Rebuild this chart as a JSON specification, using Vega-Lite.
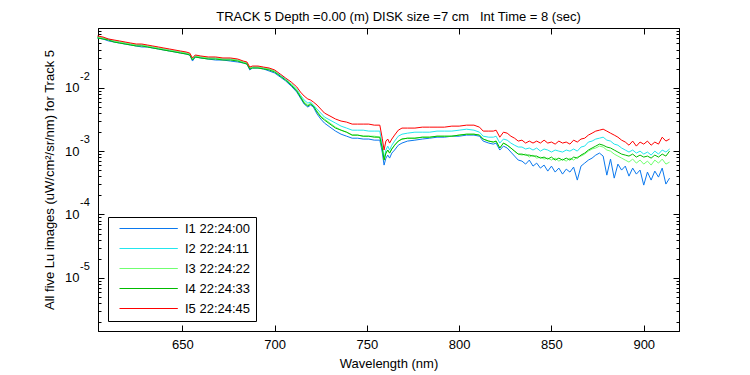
{
  "$schema": "https://vega.github.io/schema/vega-lite/v6.json",
  "width": 581,
  "height": 303,
  "autosize": {"type": "none"},
  "padding": {"left": 98, "top": 28, "right": 71, "bottom": 44},
  "background": "white",
  "config": {
    "view": {"stroke": "black", "strokeWidth": 1},
    "font": "Liberation Sans",
    "axis": {"domainColor": "black", "tickColor": "black", "labelColor": "black", "titleColor": "black", "labelFont": "Liberation Sans", "titleFont": "Liberation Sans", "labelFontSize": 13, "titleFontSize": 13, "titleFontWeight": "normal", "grid": false, "domainWidth": 1, "tickWidth": 1}
  },
  "title": {"text": "TRACK 5 Depth =0.00 (m) DISK size =7 cm\u00a0\u00a0\u00a0Int Time = 8 (sec)", "fontSize": 13, "fontWeight": "normal", "font": "Liberation Sans", "color": "black", "offset": 4, "dx": 10},
  "datasets": {
    "spectra": [
      {"nm":604,"I1":0.0610,"I2":0.0632,"I3":0.0632,"I4":0.0610,"I5":0.0656},
      {"nm":607,"I1":0.0588,"I2":0.0610,"I3":0.0610,"I4":0.0588,"I5":0.0632},
      {"nm":610,"I1":0.0547,"I2":0.0588,"I3":0.0567,"I4":0.0567,"I5":0.0588},
      {"nm":613,"I1":0.0527,"I2":0.0547,"I3":0.0547,"I4":0.0527,"I5":0.0567},
      {"nm":616,"I1":0.0508,"I2":0.0527,"I3":0.0527,"I4":0.0508,"I5":0.0547},
      {"nm":619,"I1":0.0490,"I2":0.0508,"I3":0.0508,"I4":0.0490,"I5":0.0527},
      {"nm":622,"I1":0.0473,"I2":0.0490,"I3":0.0490,"I4":0.0473,"I5":0.0508},
      {"nm":625,"I1":0.0456,"I2":0.0473,"I3":0.0473,"I4":0.0456,"I5":0.0490},
      {"nm":628,"I1":0.0440,"I2":0.0473,"I3":0.0473,"I4":0.0456,"I5":0.0490},
      {"nm":631,"I1":0.0440,"I2":0.0456,"I3":0.0456,"I4":0.0440,"I5":0.0473},
      {"nm":634,"I1":0.0424,"I2":0.0440,"I3":0.0440,"I4":0.0424,"I5":0.0456},
      {"nm":637,"I1":0.0409,"I2":0.0424,"I3":0.0424,"I4":0.0409,"I5":0.0440},
      {"nm":640,"I1":0.0394,"I2":0.0409,"I3":0.0409,"I4":0.0394,"I5":0.0424},
      {"nm":643,"I1":0.0380,"I2":0.0394,"I3":0.0394,"I4":0.0380,"I5":0.0409},
      {"nm":646,"I1":0.0367,"I2":0.0380,"I3":0.0380,"I4":0.0367,"I5":0.0394},
      {"nm":649,"I1":0.0353,"I2":0.0367,"I3":0.0367,"I4":0.0353,"I5":0.0380},
      {"nm":652,"I1":0.0341,"I2":0.0353,"I3":0.0353,"I4":0.0341,"I5":0.0367},
      {"nm":654,"I1":0.0329,"I2":0.0341,"I3":0.0341,"I4":0.0329,"I5":0.0353},
      {"nm":655.5,"I1":0.0264,"I2":0.0284,"I3":0.0284,"I4":0.0274,"I5":0.0295},
      {"nm":657,"I1":0.0306,"I2":0.0317,"I3":0.0317,"I4":0.0306,"I5":0.0329},
      {"nm":660,"I1":0.0295,"I2":0.0306,"I3":0.0306,"I4":0.0295,"I5":0.0317},
      {"nm":664,"I1":0.0284,"I2":0.0295,"I3":0.0295,"I4":0.0284,"I5":0.0306},
      {"nm":668,"I1":0.0274,"I2":0.0295,"I3":0.0295,"I4":0.0284,"I5":0.0306},
      {"nm":672,"I1":0.0274,"I2":0.0284,"I3":0.0284,"I4":0.0274,"I5":0.0295},
      {"nm":676,"I1":0.0264,"I2":0.0284,"I3":0.0284,"I4":0.0274,"I5":0.0295},
      {"nm":680,"I1":0.0255,"I2":0.0274,"I3":0.0274,"I4":0.0264,"I5":0.0284},
      {"nm":683,"I1":0.0246,"I2":0.0255,"I3":0.0255,"I4":0.0246,"I5":0.0264},
      {"nm":685,"I1":0.0237,"I2":0.0246,"I3":0.0246,"I4":0.0237,"I5":0.0255},
      {"nm":686.5,"I1":0.0191,"I2":0.0205,"I3":0.0205,"I4":0.0198,"I5":0.0212},
      {"nm":688,"I1":0.0205,"I2":0.0212,"I3":0.0212,"I4":0.0205,"I5":0.0220},
      {"nm":691,"I1":0.0205,"I2":0.0212,"I3":0.0212,"I4":0.0205,"I5":0.0220},
      {"nm":694,"I1":0.0198,"I2":0.0205,"I3":0.0205,"I4":0.0198,"I5":0.0212},
      {"nm":697,"I1":0.0184,"I2":0.0198,"I3":0.0198,"I4":0.0191,"I5":0.0205},
      {"nm":700,"I1":0.0171,"I2":0.0184,"I3":0.0184,"I4":0.0177,"I5":0.0191},
      {"nm":703,"I1":0.0148,"I2":0.0159,"I3":0.0153,"I4":0.0153,"I5":0.0165},
      {"nm":706,"I1":0.0128,"I2":0.0137,"I3":0.0132,"I4":0.0132,"I5":0.0142},
      {"nm":709,"I1":0.0106,"I2":0.0115,"I3":0.0115,"I4":0.0110,"I5":0.0123},
      {"nm":712,"I1":0.00856,"I2":0.00954,"I3":0.00920,"I4":0.00887,"I5":0.0103},
      {"nm":714,"I1":0.00688,"I2":0.00767,"I3":0.00740,"I4":0.00714,"I5":0.00856},
      {"nm":716,"I1":0.00553,"I2":0.00640,"I3":0.00595,"I4":0.00573,"I5":0.00740},
      {"nm":718,"I1":0.00496,"I2":0.00573,"I3":0.00533,"I4":0.00514,"I5":0.00664},
      {"nm":719.5,"I1":0.00533,"I2":0.00595,"I3":0.00573,"I4":0.00553,"I5":0.00640},
      {"nm":721,"I1":0.00496,"I2":0.00533,"I3":0.00514,"I4":0.00514,"I5":0.00595},
      {"nm":723,"I1":0.00385,"I2":0.00461,"I3":0.00429,"I4":0.00413,"I5":0.00533},
      {"nm":725,"I1":0.00321,"I2":0.00399,"I3":0.00358,"I4":0.00345,"I5":0.00461},
      {"nm":727,"I1":0.00277,"I2":0.00345,"I3":0.00321,"I4":0.00309,"I5":0.00399},
      {"nm":730,"I1":0.00239,"I2":0.00309,"I3":0.00277,"I4":0.00267,"I5":0.00358},
      {"nm":733,"I1":0.00207,"I2":0.00277,"I3":0.00239,"I4":0.00231,"I5":0.00321},
      {"nm":736,"I1":0.00185,"I2":0.00248,"I3":0.00214,"I4":0.00214,"I5":0.00298},
      {"nm":739,"I1":0.00172,"I2":0.00231,"I3":0.00199,"I4":0.00199,"I5":0.00287},
      {"nm":742,"I1":0.00160,"I2":0.00214,"I3":0.00179,"I4":0.00179,"I5":0.00267},
      {"nm":745,"I1":0.00160,"I2":0.00214,"I3":0.00179,"I4":0.00179,"I5":0.00267},
      {"nm":748,"I1":0.00155,"I2":0.00214,"I3":0.00172,"I4":0.00172,"I5":0.00267},
      {"nm":751,"I1":0.00155,"I2":0.00207,"I3":0.00172,"I4":0.00172,"I5":0.00267},
      {"nm":754,"I1":0.00149,"I2":0.00207,"I3":0.00172,"I4":0.00166,"I5":0.00257},
      {"nm":757,"I1":0.00149,"I2":0.00207,"I3":0.00166,"I4":0.00166,"I5":0.00257},
      {"nm":758.3,"I1":0.000966,"I2":0.00124,"I3":0.00112,"I4":0.00112,"I5":0.00160},
      {"nm":759.3,"I1":0.000602,"I2":0.000776,"I3":0.000722,"I4":0.000722,"I5":0.00104},
      {"nm":760.3,"I1":0.000776,"I2":0.00104,"I3":0.000931,"I4":0.000931,"I5":0.00144},
      {"nm":761.3,"I1":0.000866,"I2":0.00120,"I3":0.00104,"I4":0.00104,"I5":0.00155},
      {"nm":762.3,"I1":0.000776,"I2":0.00104,"I3":0.000931,"I4":0.000931,"I5":0.00134},
      {"nm":763.5,"I1":0.000931,"I2":0.00124,"I3":0.00108,"I4":0.00108,"I5":0.00155},
      {"nm":765,"I1":0.00104,"I2":0.00144,"I3":0.00124,"I4":0.00124,"I5":0.00179},
      {"nm":767,"I1":0.00124,"I2":0.00172,"I3":0.00144,"I4":0.00144,"I5":0.00214},
      {"nm":769,"I1":0.00134,"I2":0.00185,"I3":0.00155,"I4":0.00155,"I5":0.00231},
      {"nm":772,"I1":0.00144,"I2":0.00192,"I3":0.00160,"I4":0.00160,"I5":0.00231},
      {"nm":776,"I1":0.00149,"I2":0.00199,"I3":0.00160,"I4":0.00160,"I5":0.00231},
      {"nm":780,"I1":0.00155,"I2":0.00199,"I3":0.00166,"I4":0.00166,"I5":0.00239},
      {"nm":784,"I1":0.00160,"I2":0.00199,"I3":0.00166,"I4":0.00166,"I5":0.00239},
      {"nm":788,"I1":0.00166,"I2":0.00207,"I3":0.00172,"I4":0.00172,"I5":0.00239},
      {"nm":792,"I1":0.00166,"I2":0.00207,"I3":0.00172,"I4":0.00172,"I5":0.00239},
      {"nm":796,"I1":0.00172,"I2":0.00207,"I3":0.00172,"I4":0.00172,"I5":0.00248},
      {"nm":800,"I1":0.00172,"I2":0.00214,"I3":0.00179,"I4":0.00179,"I5":0.00248},
      {"nm":804,"I1":0.00179,"I2":0.00222,"I3":0.00185,"I4":0.00185,"I5":0.00257},
      {"nm":808,"I1":0.00179,"I2":0.00214,"I3":0.00185,"I4":0.00185,"I5":0.00257},
      {"nm":811,"I1":0.00172,"I2":0.00199,"I3":0.00179,"I4":0.00179,"I5":0.00239},
      {"nm":813,"I1":0.00144,"I2":0.00172,"I3":0.00155,"I4":0.00155,"I5":0.00207},
      {"nm":816,"I1":0.00134,"I2":0.00166,"I3":0.00144,"I4":0.00144,"I5":0.00207},
      {"nm":818.5,"I1":0.00129,"I2":0.00166,"I3":0.00139,"I4":0.00139,"I5":0.00207},
      {"nm":820,"I1":0.00134,"I2":0.00172,"I3":0.00144,"I4":0.00144,"I5":0.00214},
      {"nm":822,"I1":0.00104,"I2":0.00134,"I3":0.00112,"I4":0.00112,"I5":0.00166},
      {"nm":824,"I1":0.00120,"I2":0.00155,"I3":0.00134,"I4":0.00134,"I5":0.00199},
      {"nm":826,"I1":0.00112,"I2":0.00149,"I3":0.00124,"I4":0.00124,"I5":0.00192},
      {"nm":828,"I1":0.000966,"I2":0.00134,"I3":0.00112,"I4":0.00112,"I5":0.00172},
      {"nm":830,"I1":0.000835,"I2":0.00124,"I3":0.00100,"I4":0.00100,"I5":0.00160},
      {"nm":832,"I1":0.000722,"I2":0.00116,"I3":0.000898,"I4":0.000898,"I5":0.00144},
      {"nm":834,"I1":0.000696,"I2":0.00116,"I3":0.000866,"I4":0.000898,"I5":0.00149},
      {"nm":836,"I1":0.000624,"I2":0.00108,"I3":0.000898,"I4":0.000866,"I5":0.00134},
      {"nm":838,"I1":0.000722,"I2":0.00112,"I3":0.000805,"I4":0.000866,"I5":0.00144},
      {"nm":840,"I1":0.000580,"I2":0.00104,"I3":0.000866,"I4":0.000835,"I5":0.00134},
      {"nm":842,"I1":0.000647,"I2":0.00112,"I3":0.000776,"I4":0.000835,"I5":0.00144},
      {"nm":844,"I1":0.000540,"I2":0.00100,"I3":0.000805,"I4":0.000776,"I5":0.00134},
      {"nm":846,"I1":0.000602,"I2":0.00108,"I3":0.000749,"I4":0.000805,"I5":0.00149},
      {"nm":848,"I1":0.000484,"I2":0.00104,"I3":0.000776,"I4":0.000749,"I5":0.00134},
      {"nm":850,"I1":0.000580,"I2":0.000966,"I3":0.000722,"I4":0.000805,"I5":0.00139},
      {"nm":852,"I1":0.000467,"I2":0.00104,"I3":0.000776,"I4":0.000722,"I5":0.00129},
      {"nm":854,"I1":0.000540,"I2":0.00100,"I3":0.000696,"I4":0.000776,"I5":0.00144},
      {"nm":856,"I1":0.000434,"I2":0.000966,"I3":0.000749,"I4":0.000722,"I5":0.00134},
      {"nm":858,"I1":0.000520,"I2":0.00104,"I3":0.000696,"I4":0.000776,"I5":0.00139},
      {"nm":860,"I1":0.000467,"I2":0.00100,"I3":0.000776,"I4":0.000722,"I5":0.00129},
      {"nm":862,"I1":0.000560,"I2":0.00108,"I3":0.000722,"I4":0.000805,"I5":0.00149},
      {"nm":864,"I1":0.000349,"I2":0.00100,"I3":0.000805,"I4":0.000776,"I5":0.00139},
      {"nm":866,"I1":0.000580,"I2":0.00116,"I3":0.000835,"I4":0.000866,"I5":0.00155},
      {"nm":868,"I1":0.000647,"I2":0.00120,"I3":0.000898,"I4":0.000931,"I5":0.00160},
      {"nm":870,"I1":0.000722,"I2":0.00139,"I3":0.00100,"I4":0.00104,"I5":0.00179},
      {"nm":872,"I1":0.000776,"I2":0.00144,"I3":0.00108,"I4":0.00112,"I5":0.00192},
      {"nm":874,"I1":0.000866,"I2":0.00155,"I3":0.00112,"I4":0.00120,"I5":0.00207},
      {"nm":876,"I1":0.000931,"I2":0.00160,"I3":0.00120,"I4":0.00129,"I5":0.00214},
      {"nm":878,"I1":0.000835,"I2":0.00166,"I3":0.00116,"I4":0.00124,"I5":0.00222},
      {"nm":880,"I1":0.000418,"I2":0.00149,"I3":0.00104,"I4":0.00116,"I5":0.00207},
      {"nm":882,"I1":0.000749,"I2":0.00144,"I3":0.00100,"I4":0.00112,"I5":0.00192},
      {"nm":884,"I1":0.000375,"I2":0.00129,"I3":0.000898,"I4":0.00104,"I5":0.00179},
      {"nm":886,"I1":0.000624,"I2":0.00124,"I3":0.000835,"I4":0.000966,"I5":0.00166},
      {"nm":888,"I1":0.000502,"I2":0.00112,"I3":0.000776,"I4":0.000898,"I5":0.00149},
      {"nm":890,"I1":0.000580,"I2":0.00104,"I3":0.000722,"I4":0.000866,"I5":0.00139},
      {"nm":892,"I1":0.000403,"I2":0.000966,"I3":0.000671,"I4":0.000835,"I5":0.00124},
      {"nm":894,"I1":0.000540,"I2":0.00104,"I3":0.000749,"I4":0.000898,"I5":0.00144},
      {"nm":896,"I1":0.000434,"I2":0.000931,"I3":0.000647,"I4":0.000805,"I5":0.00120},
      {"nm":898,"I1":0.000502,"I2":0.00100,"I3":0.000722,"I4":0.000866,"I5":0.00139},
      {"nm":900,"I1":0.000291,"I2":0.000898,"I3":0.000624,"I4":0.000805,"I5":0.00129},
      {"nm":902,"I1":0.000467,"I2":0.000966,"I3":0.000696,"I4":0.000835,"I5":0.00144},
      {"nm":904,"I1":0.000349,"I2":0.000866,"I3":0.000602,"I4":0.000776,"I5":0.00124},
      {"nm":906,"I1":0.000484,"I2":0.00100,"I3":0.000722,"I4":0.000866,"I5":0.00139},
      {"nm":908,"I1":0.000389,"I2":0.000898,"I3":0.000647,"I4":0.000805,"I5":0.00129},
      {"nm":910,"I1":0.000540,"I2":0.00104,"I3":0.000749,"I4":0.000898,"I5":0.00166},
      {"nm":912,"I1":0.000302,"I2":0.000966,"I3":0.000624,"I4":0.000835,"I5":0.00144},
      {"nm":914,"I1":0.000375,"I2":0.00108,"I3":0.000671,"I4":0.00100,"I5":0.00155}
    ],
    "decades": [
      {"value": 0.01, "exp": "-2"},
      {"value": 0.001, "exp": "-3"},
      {"value": 0.0001, "exp": "-4"},
      {"value": 0.00001, "exp": "-5"}
    ]
  },
  "resolve": {"axis": {"x": "independent", "y": "independent"}},
  "layer": [
    {
      "data": {"name": "spectra"},
      "transform": [{"fold": ["I1", "I2", "I3", "I4", "I5"], "as": ["series", "Lu"]}],
      "mark": {"type": "line", "strokeWidth": 1},
      "encoding": {
        "x": {"field": "nm", "type": "quantitative",
          "scale": {"domain": [604.3, 919.1], "nice": false, "zero": false},
          "axis": {"orient": "bottom", "values": [650, 700, 750, 800, 850, 900], "format": "d", "tickSize": -6, "labelPadding": 13, "title": "Wavelength (nm)", "titlePadding": 6}},
        "y": {"field": "Lu", "type": "quantitative",
          "scale": {"type": "log", "domain": [1.45e-6, 0.0877], "nice": false},
          "axis": {"orient": "left",
            "values": [2e-6, 3e-6, 4e-6, 5e-6, 6e-6, 7e-6, 8e-6, 9e-6, 1e-5, 2e-5, 3e-5, 4e-5, 5e-5, 6e-5, 7e-5, 8e-5, 9e-5, 1e-4, 2e-4, 3e-4, 4e-4, 5e-4, 6e-4, 7e-4, 8e-4, 9e-4, 0.001, 0.002, 0.003, 0.004, 0.005, 0.006, 0.007, 0.008, 0.009, 0.01, 0.02, 0.03, 0.04, 0.05, 0.06, 0.07, 0.08],
            "labelExpr": "abs(log(datum.value)/LN10 - round(log(datum.value)/LN10)) < 0.01 ? '10' : ''",
            "tickSize": {"condition": {"test": "abs(log(datum.value)/LN10 - round(log(datum.value)/LN10)) < 0.01", "value": -6}, "value": -3},
            "labelPadding": 25, "labelBaseline": "middle",
            "title": "All five Lu images (uW/cm²/sr/nm) for Track 5", "titlePadding": 8}},
        "color": {"field": "series", "type": "nominal",
          "scale": {"domain": ["I1", "I2", "I3", "I4", "I5"], "range": ["#0a78ee", "#22e6ee", "#70ff70", "#00bb00", "#ff0000"]},
          "legend": {"orient": "bottom-left", "offset": 10, "title": null,
            "symbolType": "M0,0H10.6", "symbolSize": 121, "symbolStrokeWidth": 1,
            "labelFont": "Liberation Sans", "labelFontSize": 13, "labelColor": "black", "labelOffset": 59,
            "strokeColor": "black", "fillColor": "white", "padding": 5, "rowPadding": 6,
            "labelExpr": "datum.label === 'I1' ? 'I1 22:24:00' : datum.label === 'I2' ? 'I2 22:24:11' : datum.label === 'I3' ? 'I3 22:24:22' : datum.label === 'I4' ? 'I4 22:24:33' : 'I5 22:24:45'"}}
      }
    },
    {
      "data": {"name": "decades"},
      "mark": {"type": "text", "align": "left", "baseline": "middle", "dx": -18, "dy": -11, "fontSize": 11, "font": "Liberation Sans", "color": "black"},
      "encoding": {
        "x": {"datum": 604.3, "type": "quantitative", "scale": {"domain": [604.3, 919.1], "nice": false, "zero": false}, "axis": null},
        "y": {"field": "value", "type": "quantitative", "scale": {"type": "log", "domain": [1.45e-6, 0.0877], "nice": false}, "axis": null},
        "text": {"field": "exp"}
      }
    },
    {
      "data": {"name": "decades"},
      "mark": {"type": "point", "opacity": 0},
      "encoding": {
        "x": {"datum": 700, "type": "quantitative", "scale": {"domain": [604.3, 919.1], "nice": false, "zero": false},
          "axis": {"orient": "top", "values": [650, 700, 750, 800, 850, 900], "labels": false, "tickSize": -6, "title": null}},
        "y": {"field": "value", "type": "quantitative", "scale": {"type": "log", "domain": [1.45e-6, 0.0877], "nice": false},
          "axis": {"orient": "right",
            "values": [2e-6, 3e-6, 4e-6, 5e-6, 6e-6, 7e-6, 8e-6, 9e-6, 1e-5, 2e-5, 3e-5, 4e-5, 5e-5, 6e-5, 7e-5, 8e-5, 9e-5, 1e-4, 2e-4, 3e-4, 4e-4, 5e-4, 6e-4, 7e-4, 8e-4, 9e-4, 0.001, 0.002, 0.003, 0.004, 0.005, 0.006, 0.007, 0.008, 0.009, 0.01, 0.02, 0.03, 0.04, 0.05, 0.06, 0.07, 0.08],
            "labels": false, "title": null,
            "tickSize": {"condition": {"test": "abs(log(datum.value)/LN10 - round(log(datum.value)/LN10)) < 0.01", "value": -6}, "value": -3}}}
      }
    }
  ]
}
